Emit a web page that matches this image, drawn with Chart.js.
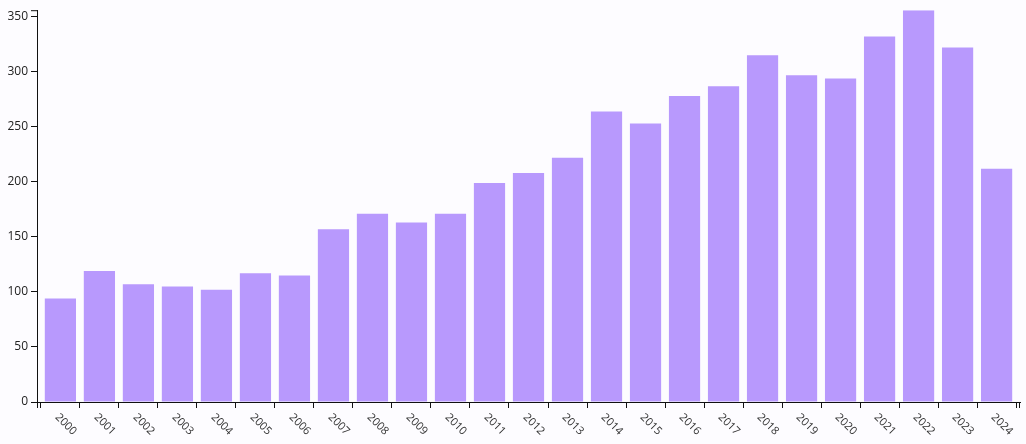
<!DOCTYPE html>
<html>
<head>
<meta charset="utf-8">
<script src="https://cdn.jsdelivr.net/npm/chart.js@4"></script>
<style>
	html, body { margin: 0; padding: 0; background: #fdfcff; }
	#wrap { width: 1026px; height: 444px; position: relative; }
</style>
</head>
<body>
<div id="wrap"><canvas id="chart"></canvas></div>
<script>
// ---- Data ----
const years = [
	"2000", "2001", "2002", "2003", "2004", "2005", "2006", "2007", "2008",
	"2009", "2010", "2011", "2012", "2013", "2014", "2015", "2016", "2017",
	"2018", "2019", "2020", "2021", "2022", "2023", "2024",
];
const counts = [
	94, 119, 107, 105, 102, 117, 115, 157, 171,
	163, 171, 199, 208, 222, 264, 253, 278, 287,
	315, 297, 294, 332, 356, 322, 212,
];
const yTicks = [0, 50, 100, 150, 200, 250, 300, 350];
const Y_MAX = 356;

// ---- Style ----
const BAR_COLOR = "#b899fd";
const AXIS_COLOR = "#111";
const FONT = "'Open Sans', 'Noto Sans', sans-serif";
const PAD = 0.6; // band padding outside first / last bar (in steps)

// rotated year labels under the x axis + outer ticks at the axis ends
const xLabels = {
	id: "xLabels",
	afterDraw(chart) {
		const { ctx, scales } = chart;
		const x = scales.x;
		const y = scales.y;
		ctx.save();
		// outer ticks (d3 style domain ends)
		ctx.strokeStyle = AXIS_COLOR;
		ctx.lineWidth = 1;
		ctx.beginPath();
		ctx.moveTo(x.left + 0.5, x.top);
		ctx.lineTo(x.left + 0.5, x.top + 6);
		ctx.moveTo(x.right - 0.5, x.top);
		ctx.lineTo(x.right - 0.5, x.top + 6);
		ctx.moveTo(y.right, y.top + 0.5);
		ctx.lineTo(y.right - 6, y.top + 0.5);
		ctx.stroke();

		ctx.fillStyle = "#333";
		ctx.font = `11px ${FONT}`;
		ctx.textAlign = "left";
		ctx.textBaseline = "middle";
		years.forEach((yr, i) => {
			const px = x.getPixelForValue(i);
			ctx.save();
			ctx.translate(px - 3.5, x.top + 13.5);
			ctx.rotate(Math.PI / 4);
			ctx.fillText(yr, 0, 0);
			ctx.restore();
		});
		ctx.restore();
	},
};

const data = years.map((_, i) => ({ x: i, y: counts[i] }));

new Chart(document.getElementById("chart"), {
	type: "bar",
	data: {
		datasets: [
			{
				data,
				backgroundColor: BAR_COLOR,
				borderWidth: 0,
				barPercentage: 0.8,
				categoryPercentage: 1,
			},
		],
	},
	options: {
		responsive: true,
		maintainAspectRatio: false,
		animation: false,
		layout: { padding: { left: 0, right: 6, top: 8, bottom: 0 } },
		plugins: { legend: { display: false }, tooltip: { enabled: false } },
		scales: {
			x: {
				type: "linear",
				min: -PAD,
				max: years.length - 1 + PAD,
				offset: false,
				afterBuildTicks: (s) => {
					s.ticks = years.map((_, i) => ({ value: i }));
				},
				afterFit: (s) => { s.height = 42; },
				ticks: { display: false },
				grid: {
					drawOnChartArea: false,
					drawTicks: true,
					tickLength: 6,
					color: AXIS_COLOR,
					lineWidth: 1,
				},
				border: { display: true, color: AXIS_COLOR, width: 1 },
			},
			y: {
				min: 0,
				max: Y_MAX,
				afterBuildTicks: (s) => {
					s.ticks = yTicks.map((v) => ({ value: v }));
				},
				afterFit: (s) => { s.width = 37; },
				ticks: {
					padding: 3,
					color: "#222",
					font: { family: FONT, size: 12 },
				},
				grid: {
					drawOnChartArea: false,
					drawTicks: true,
					tickLength: 6,
					color: AXIS_COLOR,
					lineWidth: 1,
				},
				border: { display: true, color: AXIS_COLOR, width: 1 },
			},
		},
	},
	plugins: [xLabels],
});
</script>
</body>
</html>
